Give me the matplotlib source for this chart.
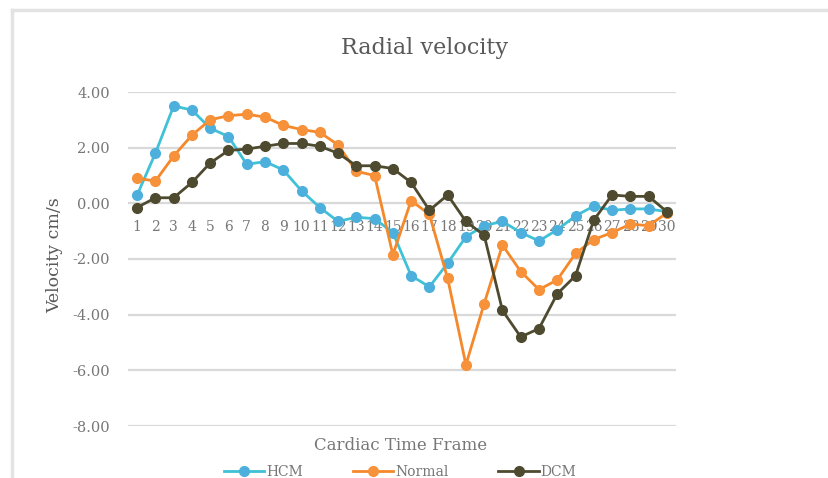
import matplotlib
matplotlib.use('Agg')
import matplotlib.pyplot as plt
from matplotlib.lines import Line2D

plt.rcParams['font.family'] = ['DejaVu Serif']

# 數據：各心動時相的徑向速度
frames = list(range(1, 31))
hcm = [0.3, 1.8, 3.5, 3.35, 2.7, 2.4, 1.4, 1.5, 1.2, 0.45,
       -0.15, -0.65, -0.5, -0.55, -1.05, -2.6, -3.0, -2.15, -1.2, -0.8,
       -0.65, -1.05, -1.35, -0.95, -0.45, -0.1, -0.25, -0.2, -0.2, -0.3]
normal = [0.9, 0.8, 1.7, 2.45, 3.0, 3.15, 3.2, 3.1, 2.8, 2.65,
          2.55, 2.1, 1.15, 1.0, -1.85, 0.1, -0.4, -2.7, -5.8, -3.6,
          -1.5, -2.45, -3.1, -2.75, -1.8, -1.3, -1.05, -0.75, -0.8, -0.35]
dcm = [-0.15, 0.2, 0.2, 0.75, 1.45, 1.9, 1.95, 2.05, 2.15, 2.15,
       2.05, 1.8, 1.35, 1.35, 1.25, 0.75, -0.25, 0.3, -0.65, -1.15,
       -3.85, -4.8, -4.5, -3.25, -2.6, -0.6, 0.3, 0.25, 0.25, -0.3]
y_ticks = [4, 2, 0, -2, -4, -6, -8]

grey = '#595959'
light_grey = '#777777'

fig = plt.figure(figsize=(8.29, 4.78), dpi=100)
ax = fig.add_axes([128 / 829, 1 - 426 / 478, 548 / 829, 334 / 478])

# 邊框（截圖殘留）
fig.add_artist(Line2D([12 / 829, 12 / 829], [0, 1 - 10 / 478], color='#e3e3e3', lw=2.5))
fig.add_artist(Line2D([12 / 829, 1], [1 - 10 / 478, 1 - 10 / 478], color='#e3e3e3', lw=2.5))

series = [
    ('HCM', hcm, '#3fc1d6', '#4db0dc'),
    ('Normal', normal, '#f5882a', '#f7923a'),
    ('DCM', dcm, '#4e4a30', '#4e4a30'),
]
handles = []
for name, vals, lc, mc in series:
    h, = ax.plot(frames, vals, color=lc, lw=2.0, marker='o', markersize=7,
                 markerfacecolor=mc, markeredgecolor=mc, zorder=3, label=name)
    handles.append(h)

ax.set_xlim(0.5, 30.5)
ax.set_ylim(-8, 4)
ax.set_yticks(y_ticks)
ax.set_yticklabels([f'{v:.2f}' for v in y_ticks])
ax.set_xticks(frames)
ax.set_xticklabels([str(f) for f in frames])
ax.grid(axis='y', color='#d9d9d9', lw=1.6)
ax.set_axisbelow(True)
for s in ['left', 'right', 'top']:
    ax.spines[s].set_visible(False)
ax.spines['bottom'].set_position(('data', 0))
ax.spines['bottom'].set_visible(False)
ax.tick_params(axis='x', length=0, pad=12, labelsize=10, labelcolor=light_grey)
ax.tick_params(axis='y', length=0, pad=13, labelsize=10.5, labelcolor=light_grey)

fig.text(425 / 829, 1 - 48 / 478, 'Radial velocity', ha='center', va='center',
         fontsize=16, color=grey)
fig.text(401 / 829, 1 - 445 / 478, 'Cardiac Time Frame', ha='center', va='center',
         fontsize=12, color=light_grey)
fig.text(55 / 829, 1 - 255 / 478, 'Velocity cm/s', ha='center', va='center',
         rotation=90, fontsize=12.5, color=grey)

leg = fig.legend(handles=handles, loc='center', bbox_to_anchor=(400 / 829, 1 - 472 / 478),
                 ncol=3, frameon=False, fontsize=10, handlelength=2.9,
                 handletextpad=0.15, columnspacing=3.6, borderpad=0, borderaxespad=0)
for t in leg.get_texts():
    t.set_color(light_grey)

fig.savefig('out.png', dpi=100)
